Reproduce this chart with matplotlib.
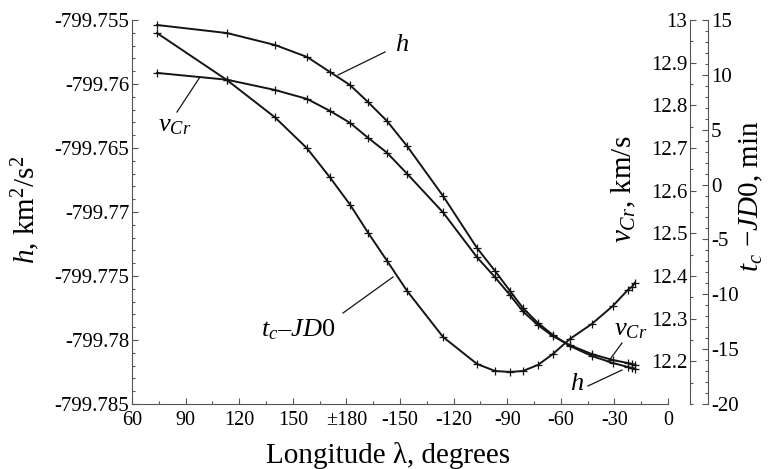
import matplotlib
matplotlib.use("Agg")
import matplotlib.pyplot as plt
import numpy as np
from matplotlib.ticker import FixedLocator, FixedFormatter, MultipleLocator

plt.rcParams["font.family"] = ["Liberation Serif", "DejaVu Serif"]
plt.rcParams["mathtext.fontset"] = "custom"
plt.rcParams["mathtext.rm"] = "Liberation Serif"
plt.rcParams["mathtext.it"] = "Liberation Serif:italic"
plt.rcParams["axes.unicode_minus"] = False

# sample longitudes, degrees (wrapped to +-180)
lon = [74.0, 113.2, 140.0, 158.0, 170.8, -178.0, -167.9, -157.3, -146.1,
       -125.9, -106.9, -96.8, -88.4, -81.2, -72.8, -64.4, -54.9, -42.6,
       -30.8, -22.4, -20.1, -18.5]

# energy constant h, km^2/s^2
h = [-799.75539, -799.75602, -799.75695, -799.75789, -799.75906, -799.76008,
     -799.76141, -799.76289, -799.76484, -799.76875, -799.77281, -799.77461,
     -799.77617, -799.77750, -799.77867, -799.77961, -799.78047, -799.78125,
     -799.78180, -799.78211, -799.78219, -799.78223]

# velocity v_Cr, km/s
v_cr = [12.876, 12.860, 12.836, 12.815, 12.787, 12.759, 12.724, 12.689,
        12.640, 12.549, 12.444, 12.397, 12.355, 12.317, 12.285, 12.259,
        12.238, 12.217, 12.203, 12.196, 12.194, 12.192]

# t_c - JD0, min
tc_jd0 = [13.81, 9.52, 6.13, 3.30, 0.65, -1.82, -4.38, -6.94, -9.68, -13.89,
          -16.35, -16.99, -17.08, -16.99, -16.44, -15.44, -14.07, -12.70,
          -11.05, -9.59, -9.31, -8.95]

x_ticks = [60, 90, 120, 150, 180, 210, 240, 270, 300, 330, 360]
x_labels = ["60", "90", "120", "150", "\u00b1180", "-150", "-120", "-90",
            "-60", "-30", "0"]
h_ticks = [-799.755, -799.76, -799.765, -799.77, -799.775, -799.78, -799.785]
h_labels = ["-799.755", "-799.76", "-799.765", "-799.77", "-799.775",
            "-799.78", "-799.785"]
v_ticks = [12.2, 12.3, 12.4, 12.5, 12.6, 12.7, 12.8, 12.9, 13.0]
v_labels = ["12.2", "12.3", "12.4", "12.5", "12.6", "12.7", "12.8", "12.9", "13"]
t_ticks = [-20, -15, -10, -5, 0, 5, 10, 15]

x = np.array(lon)
x = np.where(x < 0, x + 360, x)

spine_c = "#555555"
line_c = "#141414"

fig = plt.figure(figsize=(7.74, 4.69), dpi=100)
ax = fig.add_axes([132 / 774, 1 - 404 / 469, 536 / 774, 384 / 469])
ax2 = ax.twinx()
ax3 = ax.twinx()

style = dict(color=line_c, lw=1.4, marker="+", ms=6, mew=0.9)
ax.plot(x, h, **style)
ax2.plot(x, v_cr, **style)
ax3.plot(x, tc_jd0, **style)

ax.set_xlim(60, 360)
ax.set_ylim(-799.785, -799.755)
ax2.set_ylim(12.1, 13.0)
ax3.set_ylim(-20, 15)

# main axes: left + bottom only
for s in ["top", "right"]:
    ax.spines[s].set_visible(False)
for s in ["left", "bottom"]:
    ax.spines[s].set_color(spine_c)
ax.xaxis.set_major_locator(FixedLocator(x_ticks))
ax.xaxis.set_major_formatter(FixedFormatter(x_labels))
ax.xaxis.set_minor_locator(MultipleLocator(15))
ax.yaxis.set_major_locator(FixedLocator(h_ticks))
ax.yaxis.set_major_formatter(FixedFormatter(h_labels))
ax.yaxis.set_minor_locator(MultipleLocator(0.001))
ax.tick_params(which="both", direction="in", color=spine_c, width=0.8)
ax.tick_params(which="major", length=4)
ax.tick_params(which="minor", length=2)
ax.tick_params(axis="y", labelsize=15, pad=2)
ax.tick_params(axis="x", labelsize=14.5, pad=5)

# v_Cr axis: spine offset right, labels on its left
for s in ["top", "right", "bottom"]:
    ax2.spines[s].set_visible(False)
ax2.spines["left"].set_visible(True)
ax2.spines["left"].set_position(("axes", (690 - 132) / 536))
ax2.spines["left"].set_color(spine_c)
ax2.yaxis.tick_left()
ax2.yaxis.set_label_position("left")
ax2.yaxis.set_major_locator(FixedLocator(v_ticks))
ax2.yaxis.set_major_formatter(FixedFormatter(v_labels))
ax2.yaxis.set_minor_locator(MultipleLocator(0.05))
ax2.tick_params(which="both", direction="in", color=spine_c, width=0.8,
                labelsize=15, pad=2)
ax2.tick_params(which="major", length=4)
ax2.tick_params(which="minor", length=2)

# t_c - JD0 axis
for s in ["top", "left", "bottom"]:
    ax3.spines[s].set_visible(False)
ax3.spines["right"].set_position(("axes", (708 - 132) / 536))
ax3.spines["right"].set_color(spine_c)
ax3.yaxis.set_major_locator(FixedLocator(t_ticks))
ax3.yaxis.set_minor_locator(MultipleLocator(1))
ax3.tick_params(which="both", direction="in", color=spine_c, width=0.8,
                labelsize=15, pad=2)
ax3.tick_params(which="major", length=4)
ax3.tick_params(which="minor", length=2)

# axis labels
ax.set_xlabel("Longitude \u03bb, degrees", fontsize=21)
ax.xaxis.set_label_coords(0.478, -0.10)
ax.set_ylabel("$h$, km$^2$/s$^2$", fontsize=21)
ax.yaxis.set_label_coords(-0.168, 0.505)
ax2.set_ylabel("$v_{Cr}$, km/s", fontsize=21)
ax2.yaxis.set_label_coords(0.944, 0.56)
ax3.set_ylabel("$t_c$ $-$$\\mathit{JD0}$, min", fontsize=21, rotation=90)
ax3.yaxis.set_label_coords(1.131, 0.54)


def fx(px):
    return (px - 132) / 536


def fy(py):
    return (404 - py) / 384


def lead(p0, p1):
    ax.plot([fx(p0[0]), fx(p1[0])], [fy(p0[1]), fy(p1[1])], color=line_c,
            lw=0.9, transform=ax.transAxes, clip_on=False)


lab = dict(transform=ax.transAxes, fontsize=19, ha="center", va="center")
ax.text(fx(402), fy(45), "$h$", **lab)
lead((385, 52), (338, 75))
ax.text(fx(175), fy(126), "$v_{Cr}$", **lab)
lead((177, 112), (200, 77))
ax.text(fx(298), fy(330), "$t_c$\u2013$\\mathit{JD0}$", **lab)
lead((343, 313), (393, 277))
ax.text(fx(631), fy(330), "$v_{Cr}$", **lab)
lead((622, 343), (608, 362))
ax.text(fx(577), fy(384), "$h$", **lab)
lead((588, 386), (622, 370))

fig.savefig("out.png", dpi=100)
